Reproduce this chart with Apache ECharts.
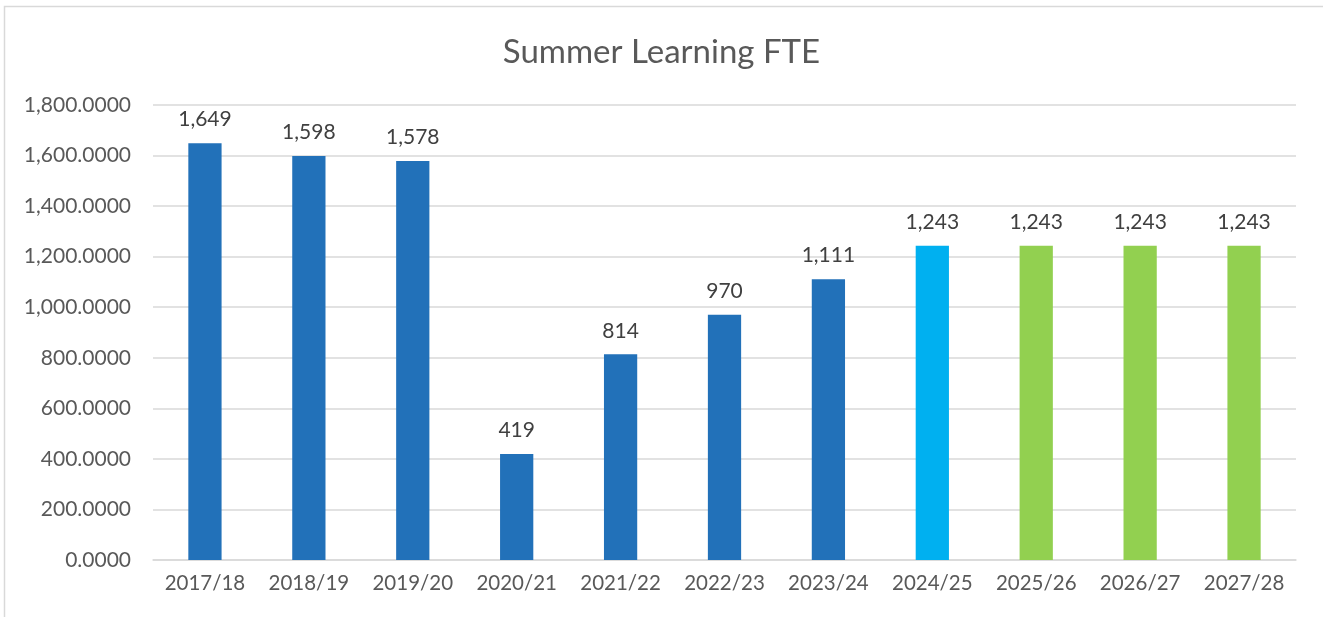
<!DOCTYPE html>
<html><head><meta charset="utf-8">
<script src="https://cdn.jsdelivr.net/npm/echarts@6/dist/echarts.min.js"></script>
<style>html,body{margin:0;padding:0;background:#fff}#c{width:1323px;height:617px}</style>
</head><body><div id="c"></div>
<script>
const categories = ['2017/18','2018/19','2019/20','2020/21','2021/22','2022/23','2023/24','2024/25','2025/26','2026/27','2027/28'];
const values = [1649, 1598, 1578, 419, 814, 970, 1111, 1243, 1243, 1243, 1243];
const barColors = ['#2271B9','#2271B9','#2271B9','#2271B9','#2271B9','#2271B9','#2271B9','#00B0F0','#92D050','#92D050','#92D050'];
const titleText = 'Summer Learning FTE';

const FONT = 'Lato';
const chart = echarts.init(document.getElementById('c'));
chart.setOption({
  animation: false,
  title: { text: titleText, left: 'center', top: 31, textStyle: { fontFamily: FONT, fontSize: 33, fontWeight: 'normal', color: '#595959' } },
  graphic: [{ type: 'rect', shape: { x: 4.5, y: 6.5, width: 1340, height: 700 }, style: { fill: 'none', stroke: '#d9d9d9', lineWidth: 1.5 }, silent: true }],
  grid: { left: 153, right: 27, top: 105, bottom: 57, containLabel: false },
  xAxis: {
    type: 'category', data: categories,
    axisLine: { lineStyle: { color: '#d9d9d9', width: 1.5 } },
    axisTick: { show: false },
    axisLabel: { interval: 0, hideOverlap: false, fontFamily: FONT, fontSize: 20.5, color: '#595959', margin: 13 }
  },
  yAxis: {
    type: 'value', min: 0, max: 1800, interval: 200,
    axisLine: { show: false }, axisTick: { show: false },
    splitLine: { lineStyle: { color: '#d9d9d9', width: 1.5 } },
    axisLabel: { fontFamily: FONT, fontSize: 21, color: '#595959', margin: 22,
      formatter: v => v.toLocaleString('en-US', { minimumFractionDigits: 4, maximumFractionDigits: 4 }) }
  },
  series: [{
    type: 'bar', barWidth: '32%',
    data: values.map((v, i) => ({ value: v, itemStyle: { color: barColors[i] } })),
    label: { show: true, position: 'top', distance: 13, fontFamily: FONT, fontSize: 21, color: '#404040',
      formatter: p => p.value.toLocaleString('en-US') }
  }]
});
</script></body></html>
